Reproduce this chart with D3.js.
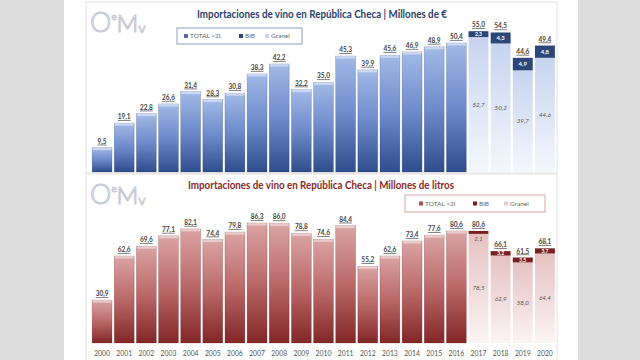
<!DOCTYPE html>
<html><head><meta charset="utf-8">
<script src="https://cdn.jsdelivr.net/npm/d3@7"></script>
<style>
html,body{margin:0;padding:0;background:#dcdcdc;}
svg{display:block;}
text{font-family:"Lato","Open Sans",sans-serif;}
</style></head><body>
<svg id="c" width="640" height="360"></svg>
<script>
const years = ["2000","2001","2002","2003","2004","2005","2006","2007","2008","2009","2010","2011","2012","2013","2014","2015","2016","2017","2018","2019","2020"];
// Millones de €
const eurTotal2l = [9.5,19.1,22.8,26.6,31.4,28.3,30.8,38.3,42.2,32.2,35.0,45.3,39.9,45.6,46.9,48.9,50.4,0,0,0,0];
const eurGranel  = [0,0,0,0,0,0,0,0,0,0,0,0,0,0,0,0,0,52.7,50.2,39.7,44.6];
const eurBib     = [0,0,0,0,0,0,0,0,0,0,0,0,0,0,0,0,0,2.3,4.3,4.9,4.8];
// Millones de litros
const litTotal2l = [30.9,62.6,69.6,77.1,82.1,74.4,79.8,86.3,86.0,78.8,74.6,84.4,55.2,62.6,73.4,77.6,80.6,0,0,0,0];
const litGranel  = [0,0,0,0,0,0,0,0,0,0,0,0,0,0,0,0,0,78.5,62.9,58.0,64.4];
const litBib     = [0,0,0,0,0,0,0,0,0,0,0,0,0,0,0,0,0,2.1,3.2,3.5,3.7];
const legendLabels = ["TOTAL >2l.","BiB","Granel"];
const titles = ["Importaciones de vino en República Checa | Millones de €","Importaciones de vino en República Checa | Millones de litros"];

const svg = d3.select("#c");
const fmt = v => d3.format(".1f")(v).replace(".", ",");

// background white sheet
svg.append("rect").attr("x",64).attr("y",0).attr("width",514).attr("height",360).attr("fill","#ffffff");

const defs = svg.append("defs");
function grad(id, stops){
  const g = defs.append("linearGradient").attr("id",id).attr("x1",0).attr("y1",0).attr("x2",0).attr("y2",1);
  stops.forEach(s=>g.append("stop").attr("offset",s[0]).attr("stop-color",s[1]));
}
grad("gBlue",[[0,"#a3bae6"],[0.5,"#6d8acb"],[1,"#2f4c8c"]]);
grad("gBlueG",[[0,"#c7d4ef"],[1,"#f4f7fc"]]);
grad("gRed",[[0,"#dba4a4"],[0.5,"#ba6868"],[1,"#822626"]]);
grad("gRedG",[[0,"#e6c2c2"],[1,"#fbf4f4"]]);

const x = d3.scaleBand().domain(years).range([91,556]).paddingInner(0.1).paddingOuter(0.05);

const panels = [
  {y0:2, h:171, base:172, unit:2.56, t2l:eurTotal2l, gr:eurGranel, bib:eurBib, title:titles[0], tcol:"#2b3f6e",
   main:"url(#gBlue)", granel:"url(#gBlueG)", bibCol:"#2c4677", edge:"#2a3f6a", legend:{x:177,y:28,w:125,h:16,stroke:"#9fb0d0"}, titleY:18, legCol:["#4f6aa6","#2c4677","#c9d5ee"]},
  {y0:174, h:190, base:343, unit:1.39, t2l:litTotal2l, gr:litGranel, bib:litBib, title:titles[1], tcol:"#8a2a2a",
   main:"url(#gRed)", granel:"url(#gRedG)", bibCol:"#7a1f1f", edge:"#6a1c1c", legend:{x:405,y:195,w:140,h:17,stroke:"#e0b5b5"}, titleY:189, legCol:["#a84f4f","#7a1f1f","#e8c6c6"]}
];

panels.forEach((p,pi)=>{
  const g = svg.append("g");
  g.append("rect").attr("x",86).attr("y",p.y0).attr("width",471).attr("height",p.h)
    .attr("fill","#fff").attr("stroke","#e2e2e2").attr("stroke-width",1);
  // logo (single text element, no overlapping glyphs)
  const lt = g.append("text").attr("x",90).attr("y",p.y0+30).attr("fill","none").attr("stroke","#c9c9d6")
    .attr("stroke-width",1.1).attr("font-weight",300);
  lt.append("tspan").attr("font-size",27).text("O");
  lt.append("tspan").attr("font-size",10).attr("dy",-12).text("e");
  lt.append("tspan").attr("font-size",24).attr("dy",12).text("M");
  lt.append("tspan").attr("font-size",14).attr("dy",1).text("v");

  const y = d3.scaleLinear().domain([0,100]).range([p.base, p.base - 100*p.unit]);

  // title
  g.append("text").attr("x", pi===0?322:321).attr("y",p.titleY).attr("text-anchor","middle")
    .attr("font-size",10.5).attr("font-weight",700).attr("fill",p.tcol)
    .attr("textLength", pi===0?250:266).attr("lengthAdjust","spacingAndGlyphs").text(p.title);

  // legend
  const L = p.legend;
  g.append("rect").attr("x",L.x).attr("y",L.y).attr("width",L.w).attr("height",L.h).attr("fill","#fff").attr("stroke",L.stroke).attr("stroke-width",1.2);
  const offs = pi===0 ? [7,62,88] : [14,68,99];
  legendLabels.forEach((t,i)=>{
    const lx = L.x + offs[i], ly = L.y + L.h/2;
    g.append("rect").attr("x",lx).attr("y",ly-2).attr("width",4).attr("height",4).attr("fill",p.legCol[i]);
    g.append("text").attr("x",lx+6).attr("y",ly+2.3).attr("font-size",6.5).attr("fill","#666").text(pi===1 && i===0 ? "TOTAL >2l" : t);
  });

  const data = years.map((yr,i)=>({yr, t2l:p.t2l[i], gr:p.gr[i], bib:p.bib[i], tot:p.t2l[i]+p.gr[i]+p.bib[i]}));
  const bw = x.bandwidth();

  // main bars
  data.filter(d=>d.t2l>0).forEach(d=>{
    g.append("rect").attr("x",x(d.yr)).attr("y",y(d.t2l)).attr("width",bw).attr("height",p.base-y(d.t2l))
      .attr("fill",p.main).attr("stroke",p.edge).attr("stroke-opacity",0.35).attr("stroke-width",0.6);
    g.append("rect").attr("x",x(d.yr)+0.5).attr("y",y(d.t2l)).attr("width",bw-1).attr("height",2.5)
      .attr("fill","#ffffff").attr("opacity",0.45);
  });
  // granel
  data.filter(d=>d.gr>0).forEach(d=>{
    g.append("rect").attr("x",x(d.yr)).attr("y",y(d.gr)).attr("width",bw).attr("height",p.base-y(d.gr))
      .attr("fill",p.granel);
    g.append("text").attr("x",x(d.yr)+bw/2).attr("y",y(d.gr/2)+2).attr("text-anchor","middle")
      .attr("font-size",6.2).attr("font-style","italic").attr("fill","#555").text(fmt(d.gr));
  });
  // bib
  data.filter(d=>d.bib>0).forEach(d=>{
    g.append("rect").attr("x",x(d.yr)).attr("y",y(d.gr+d.bib)).attr("width",bw).attr("height",y(d.gr)-y(d.gr+d.bib))
      .attr("fill",p.bibCol);
    const segH = y(d.gr)-y(d.gr+d.bib);
    if (segH >= 8) {
      g.append("text").attr("x",x(d.yr)+bw/2).attr("y",y(d.gr+d.bib/2)+2).attr("text-anchor","middle")
        .attr("font-size",6).attr("font-weight",700).attr("fill","#fff").text(fmt(d.bib));
    } else if (pi===1 && d.yr==="2017") {
      g.append("text").attr("x",x(d.yr)+bw/2).attr("y",y(d.gr)+7).attr("text-anchor","middle")
        .attr("font-size",6).attr("font-style","italic").attr("fill","#555").text(fmt(d.bib));
    } else {
      g.append("text").attr("x",x(d.yr)+bw/2).attr("y",y(d.gr+d.bib/2)+2).attr("text-anchor","middle")
        .attr("font-size",5).attr("font-weight",700).attr("fill","#fff").text(fmt(d.bib));
    }
  });
  // total labels
  data.forEach(d=>{
    g.append("text").attr("x",x(d.yr)+bw/2).attr("y",y(d.tot)-4).attr("text-anchor","middle")
      .attr("font-size",6.5).attr("font-weight",700).attr("fill","#444")
      .style("text-decoration","underline").text(fmt(d.tot));
  });

  if (pi===1) {
    const ax = g.append("g").attr("transform",`translate(0,${p.base})`)
      .call(d3.axisBottom(x).tickSize(0).tickPadding(8));
    ax.select(".domain").remove();
    ax.selectAll("text").attr("font-size",6.8).attr("fill","#555").attr("font-family","Lato, sans-serif");
  }
});
</script>
</body></html>
